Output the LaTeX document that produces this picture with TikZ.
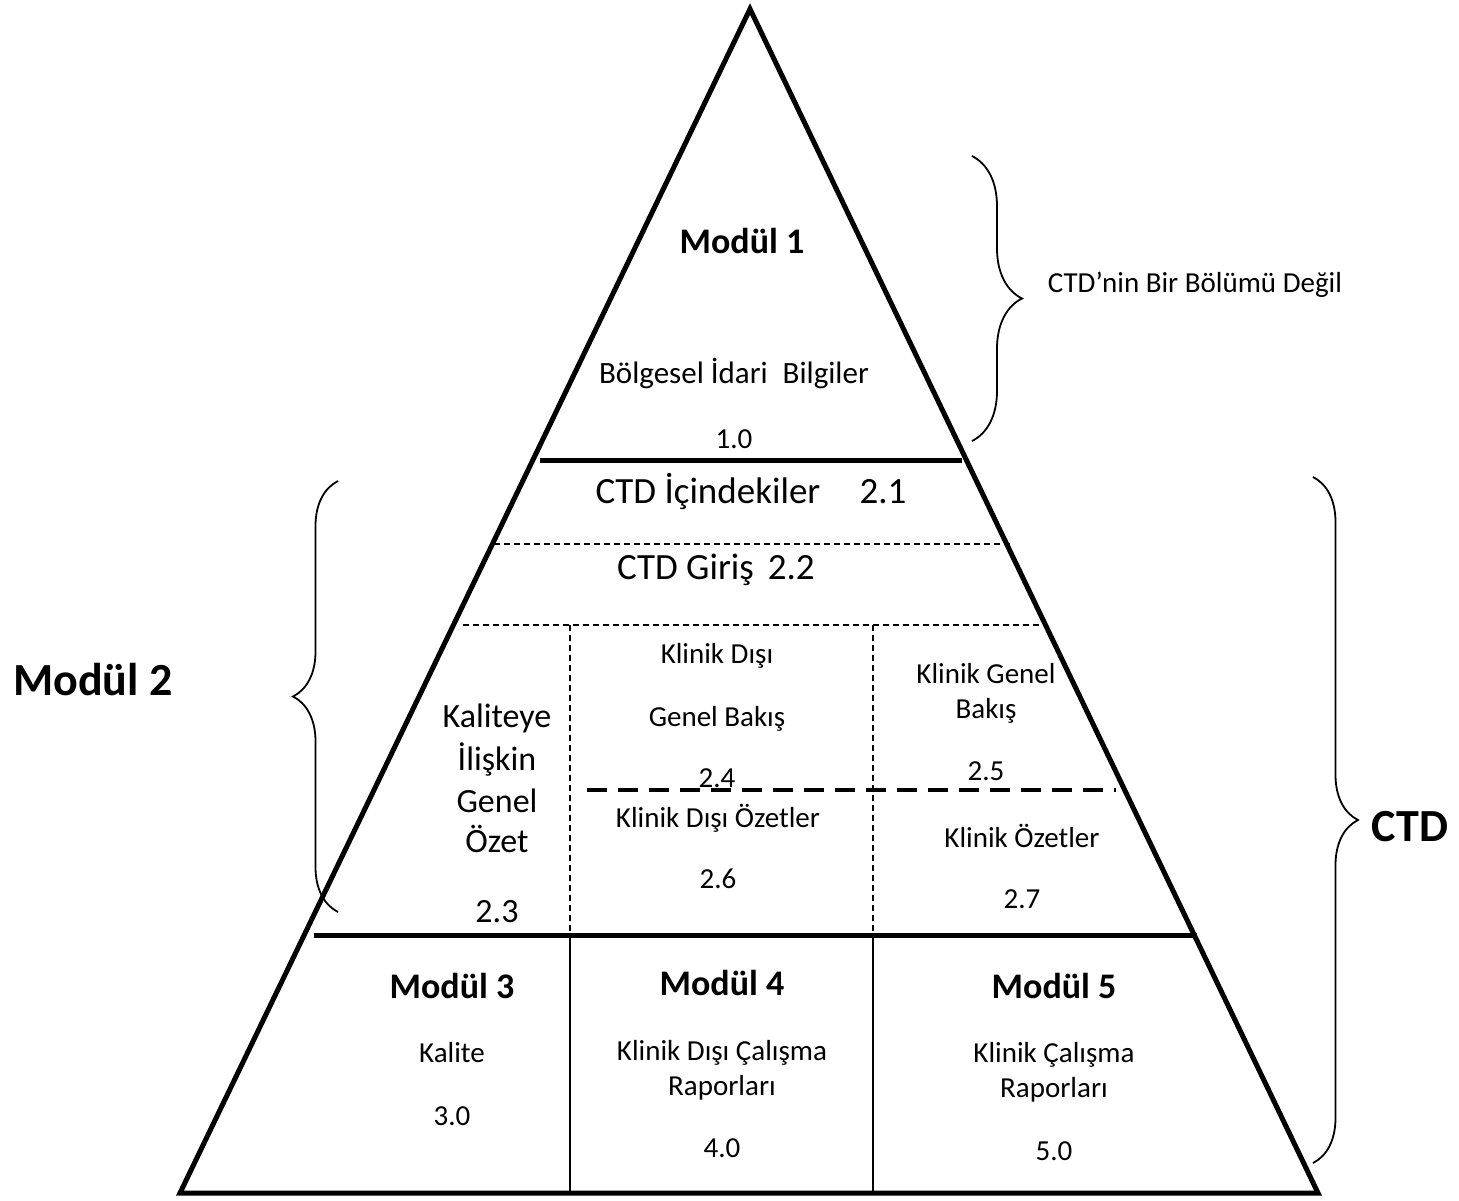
\documentclass[tikz,border=0pt]{standalone}
\usepackage{fontspec}
\setmainfont{Carlito}
\usetikzlibrary{decorations.pathreplacing}
\begin{document}
\begin{tikzpicture}[x=1pt,y=-1pt,
  edge/.style={line width=5pt, line join=miter},
  thickline/.style={line width=5pt},
  thinsolid/.style={line width=2pt},
  thindash/.style={line width=1.4pt, dash pattern=on 6pt off 4pt},
  thickdash/.style={line width=4pt, dash pattern=on 20pt off 11pt},
  bracer/.style={line width=1.8pt, decorate, decoration={brace, amplitude=#1}},
  lbl/.style={anchor=base, inner sep=0pt, font=\fontsize{29}{35}\selectfont},
  lblmid/.style={anchor=base, inner sep=0pt, font=\fontsize{34}{40}\selectfont},
  lblbig/.style={anchor=base, inner sep=0pt, font=\fontsize{37}{44}\selectfont},
  modb/.style={anchor=base, inner sep=0pt, font=\fontsize{36}{43}\selectfont\bfseries},
  modbig/.style={anchor=base, inner sep=0pt, font=\fontsize{46}{55}\selectfont\bfseries}
]
\useasboundingbox (0,0) rectangle (1459,1200);

% triangle
\coordinate (A) at (750,9);
\coordinate (BL) at (180,1193);
\coordinate (BR) at (1318,1193);
\draw[edge] (A) -- (BL) -- (BR) -- cycle;

% separators
\coordinate (s1a) at (540,460);  \coordinate (s1b) at (962,460);
\coordinate (s2a) at (494,544);  \coordinate (s2b) at (1010,544);
\coordinate (s3a) at (463,625);  \coordinate (s3b) at (1045,625);
\coordinate (s4a) at (587,790);  \coordinate (s4b) at (1116,790);
\coordinate (s5a) at (314,935);  \coordinate (s5b) at (1197,935);
\coordinate (v1t) at (570,625);  \coordinate (v1m) at (570,935);  \coordinate (v1b) at (570,1193);
\coordinate (v2t) at (873,625);  \coordinate (v2m) at (873,935);  \coordinate (v2b) at (873,1193);

\draw[thickline] (s1a) -- (s1b);
\draw[thindash] (s2a) -- (s2b);
\draw[thindash] (s3a) -- (s3b);
\draw[thindash] (v1t) -- (v1m);
\draw[thindash] (v2t) -- (v2m);
\draw[thickdash] (s4a) -- (s4b);
\draw[thickline] (s5a) -- (s5b);
\draw[thinsolid] (v1m) -- (v1b);
\draw[thinsolid] (v2m) -- (v2b);

% braces
\coordinate (b1t) at (972,156);  \coordinate (b1b) at (972,441);
\coordinate (b2t) at (338,481);  \coordinate (b2b) at (338,912);
\coordinate (b3t) at (1313,477); \coordinate (b3b) at (1313,1163);
\draw[bracer=50pt] (b1t) -- (b1b);
\draw[bracer=45pt] (b2b) -- (b2t);
\draw[bracer=45pt] (b3t) -- (b3b);

% Modul 1
\node[modb] (m1) at (742,253) {Modül 1};
\node[lbl, font=\fontsize{31}{37}\selectfont] (m1t) at (734,383) {Bölgesel İdari\hspace{15pt}Bilgiler};
\node[lbl] (m1n) at (734,448) {1.0};
\node[lbl] (notctd) at (1195,292) {CTD’nin Bir Bölümü Değil};

% Modul 2
\node[lblbig] (ctdic) at (708,503) {CTD İçindekiler};
\node[lblbig] (n21) at (883,503) {2.1};
\node[lblbig] (giris) at (716,579) {CTD Giriş\hspace{14pt}2.2};

\node[lblmid] (kal1) at (497,727) {Kaliteye};
\node[lblmid] (kal2) at (497,770) {İlişkin};
\node[lblmid] (kal3) at (497,812) {Genel};
\node[lblmid] (kal4) at (497,852) {Özet};
\node[lblmid] (n23) at (497,922) {2.3};

\node[lbl] (kd1) at (717,663) {Klinik Dışı};
\node[lbl] (kd2) at (717,726) {Genel Bakış};
\node[lbl] (n24) at (717,787) {2.4};

\node[lbl] (kg1) at (986,683) {Klinik Genel};
\node[lbl] (kg2) at (986,718) {Bakış};
\node[lbl] (n25) at (986,780) {2.5};

\node[lbl] (kdo) at (718,827) {Klinik Dışı Özetler};
\node[lbl] (n26) at (718,888) {2.6};

\node[lbl] (ko) at (1022,847) {Klinik Özetler};
\node[lbl] (n27) at (1022,908) {2.7};

\node[modbig] (m2) at (93,695) {Modül 2};
\node[modbig] (ctd) at (1410,841) {CTD};

% Modul 3-5
\node[modb] (m3) at (452,998) {Modül 3};
\node[lbl] (m3t) at (452,1062) {Kalite};
\node[lbl] (m3n) at (452,1125) {3.0};

\node[modb] (m4) at (722,995) {Modül 4};
\node[lbl] (m4t1) at (722,1060) {Klinik Dışı Çalışma};
\node[lbl] (m4t2) at (722,1095) {Raporları};
\node[lbl] (m4n) at (722,1157) {4.0};

\node[modb] (m5) at (1054,998) {Modül 5};
\node[lbl] (m5t1) at (1054,1062) {Klinik Çalışma};
\node[lbl] (m5t2) at (1054,1097) {Raporları};
\node[lbl] (m5n) at (1054,1160) {5.0};
\end{tikzpicture}
\end{document}
